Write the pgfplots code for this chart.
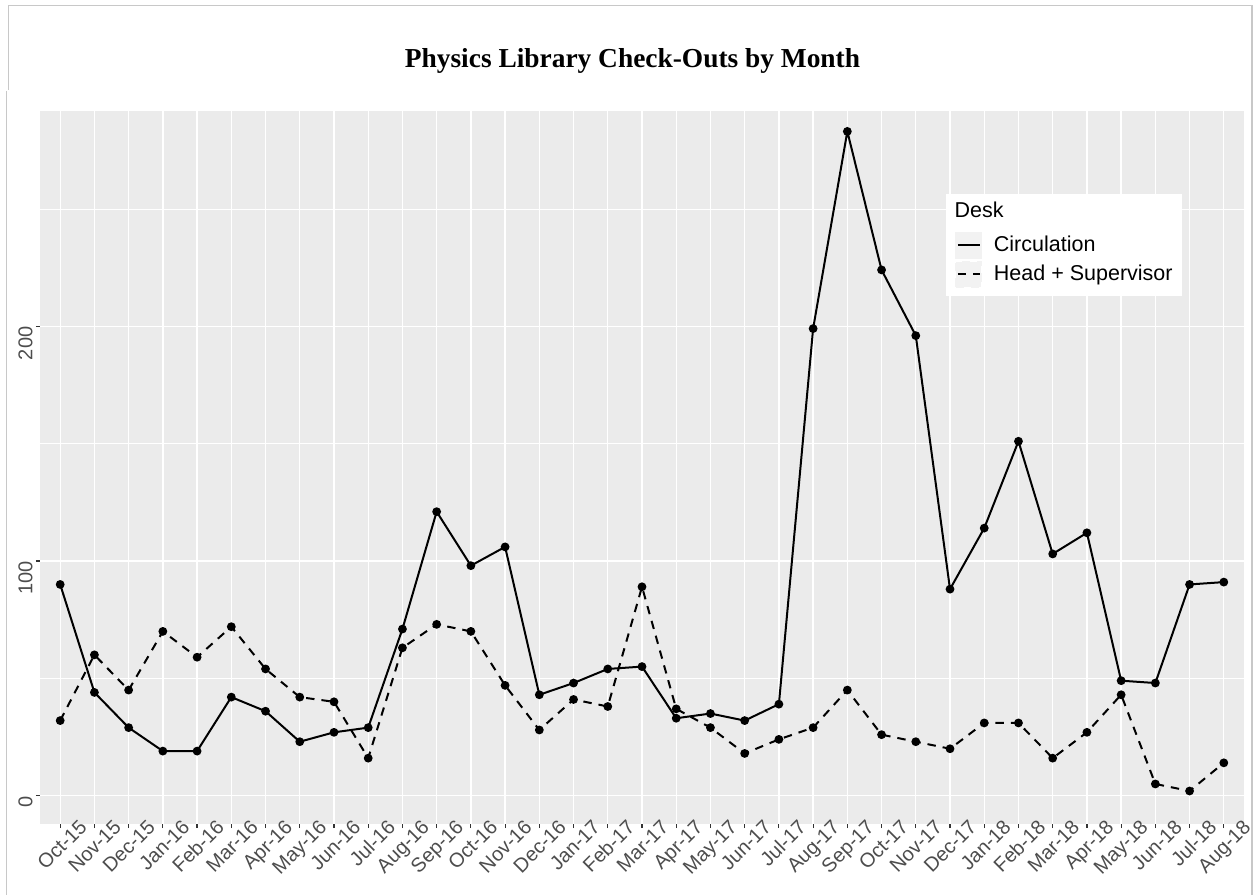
\documentclass[border=0pt]{standalone}
\usepackage{fontspec}
\setmainfont{Liberation Serif}
\newfontfamily\arial{Liberation Sans}
\usepackage{pgfplots}
\pgfplotsset{compat=1.18}
\definecolor{panel}{HTML}{EBEBEB}
\definecolor{ticktext}{HTML}{4D4D4D}
\definecolor{tickline}{HTML}{333333}
\definecolor{keybg}{HTML}{F2F2F2}
\definecolor{frame}{HTML}{C8C8C8}
\begin{document}
\begin{tikzpicture}
\useasboundingbox (0pt,0pt) rectangle (627.5pt,-447.5pt);
\draw[frame, line width=0.6pt] (4.15pt,-45pt) -- (4.15pt,-2.65pt) -- (626pt,-2.65pt) -- (626pt,-447.5pt);
\draw[frame, line width=0.6pt] (3.15pt,-45.5pt) -- (3.15pt,-447.5pt);
\node[font=\bfseries\fontsize{13.7}{16}\selectfont, anchor=base, inner sep=0pt] at (316.25pt,-33.85pt) {Physics Library Check-Outs by Month};
\begin{axis}[
  at={(20pt,-412pt)}, anchor=south west,
  width=602pt, height=356.5pt, scale only axis,
  xmin=-0.59, xmax=34.59, ymin=-12.06, ymax=291.7,
  axis background/.style={fill=panel},
  axis line style={draw=none},
  /pgf/number format/assume math mode=true,
  xtick={0,...,34},
  xticklabels={Oct-15,Nov-15,Dec-15,Jan-16,Feb-16,Mar-16,Apr-16,May-16,Jun-16,Jul-16,Aug-16,Sep-16,Oct-16,Nov-16,Dec-16,Jan-17,Feb-17,Mar-17,Apr-17,May-17,Jun-17,Jul-17,Aug-17,Sep-17,Oct-17,Nov-17,Dec-17,Jan-18,Feb-18,Mar-18,Apr-18,May-18,Jun-18,Jul-18,Aug-18},
  ytick={0,100,200}, minor ytick={50,150,250},
  grid=both,
  major grid style={white, line width=0.65pt},
  minor grid style={white, line width=0.35pt},
  tick align=outside, major tick length=2pt, minor tick length=0pt,
  major tick style={tickline, line width=0.6pt},
  xtick pos=bottom, ytick pos=left,
  xticklabel style={font=\arial\fontsize{10}{12}\selectfont, text=ticktext, xshift=9pt, yshift=5pt, rotate=45, anchor=north east, inner sep=0pt},
  yticklabel style={font=\arial\fontsize{10}{12}\selectfont, text=ticktext, xshift=-1.5pt, rotate=90, anchor=south east, inner sep=0pt},
  legend style={at={(0.7522,0.8846)}, anchor=north west, fill=white, draw=none,
    inner xsep=4.6pt, inner ysep=4.3pt, row sep=1pt, column sep=5.85pt,
    nodes={inner sep=0pt, font=\arial\fontsize{10.75}{12}\selectfont, text=black}},
  legend cell align=left,
  legend image code/.code={
    \fill[keybg] (0pt,-6.25pt) rectangle (12.5pt,6.25pt);
    \draw[#1,mark=none] (0.85pt,0pt) -- (11.65pt,0pt);
  },
]
\addlegendimage{legend image code/.code={\path[draw=none,fill=none] (0pt,-9pt) rectangle (1pt,4pt);}}
\addlegendentry{\hspace*{-19.7pt}Desk}
\addplot[black, line width=1pt, mark=*, mark size=1.67pt, mark options={solid}] coordinates {
(0,90) (1,44) (2,29) (3,19) (4,19) (5,42) (6,36) (7,23) (8,27) (9,29)
(10,71) (11,121) (12,98) (13,106) (14,43) (15,48) (16,54) (17,55) (18,33) (19,35)
(20,32) (21,39) (22,199) (23,283) (24,224) (25,196) (26,88) (27,114) (28,151) (29,103)
(30,112) (31,49) (32,48) (33,90) (34,91)
};
\addlegendentry{Circulation}
\addplot[black, line width=1pt, dash pattern=on 4.2pt off 3.5pt, mark=*, mark size=1.67pt, mark options={solid}] coordinates {
(0,32) (1,60) (2,45) (3,70) (4,59) (5,72) (6,54) (7,42) (8,40) (9,16)
(10,63) (11,73) (12,70) (13,47) (14,28) (15,41) (16,38) (17,89) (18,37) (19,29)
(20,18) (21,24) (22,29) (23,45) (24,26) (25,23) (26,20) (27,31) (28,31) (29,16)
(30,27) (31,43) (32,5) (33,2) (34,14)
};
\addlegendentry{Head + Supervisor}
\end{axis}
\end{tikzpicture}
\end{document}
